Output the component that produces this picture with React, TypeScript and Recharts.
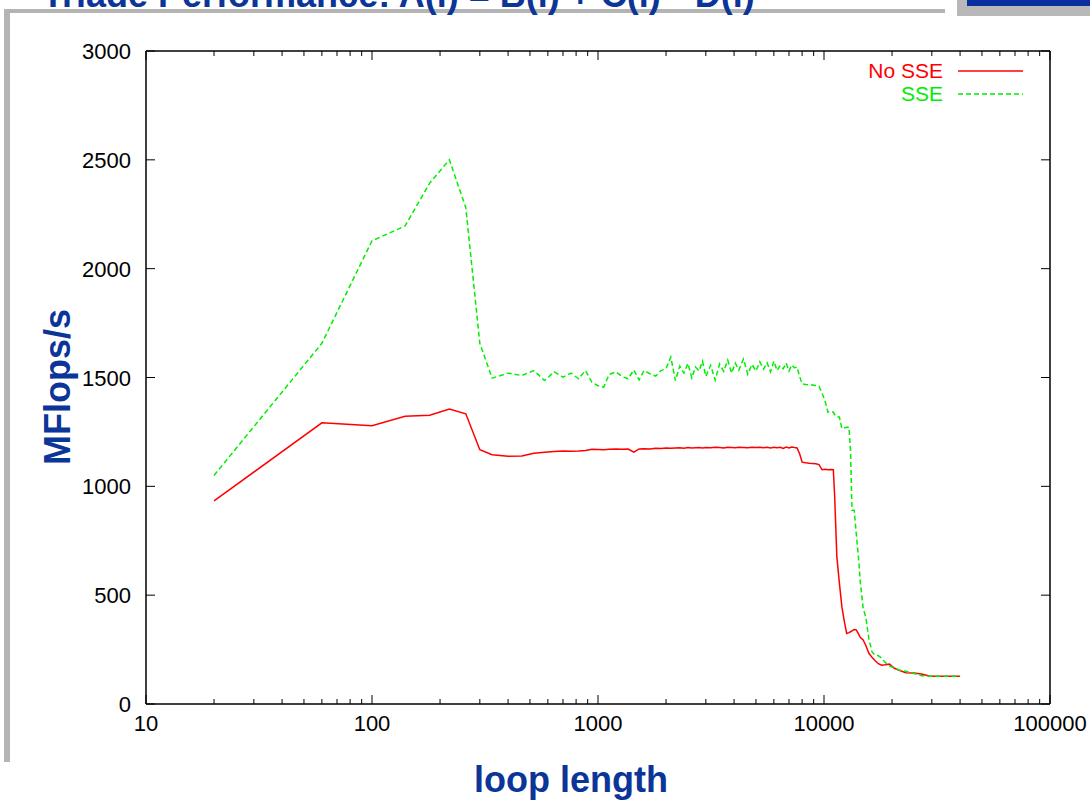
import { Legend, Line, LineChart, XAxis, YAxis } from 'recharts';

const loopLengths = [
	20, 60, 100, 140, 180, 220, 260, 300, 340, 400,
	460, 520, 580, 640, 700, 760, 820, 880, 940, 1000,
	1060, 1120, 1200, 1280, 1360, 1440, 1520, 1600, 1700, 1800,
	1900, 2000, 2100, 2200, 2300, 2400, 2500, 2600, 2700, 2800,
	2900, 3000, 3150, 3300, 3450, 3600, 3750, 3900, 4050, 4200,
	4400, 4600, 4800, 5000, 5200, 5400, 5600, 5800, 6000, 6200,
	6400, 6600, 6800, 7000, 7200, 7400, 7600, 7800, 8000, 8300,
	8600, 8900, 9200, 9500, 9800, 10100, 10400, 10700, 11000, 11150,
	11400, 11700, 12000, 12300, 12600, 12900, 13100, 13300, 13600, 13900,
	14200, 14500, 14900, 15300, 15800, 16300, 16800, 17400, 18000, 18700,
	19500, 20500, 21500, 23000, 25000, 27000, 29500, 32000, 35000, 38000,
	40000,
];

const noSse = [
	933, 1292, 1278, 1322, 1327, 1355, 1333, 1168, 1145, 1138,
	1139, 1152, 1157, 1160, 1162, 1161, 1162, 1165, 1170, 1169,
	1168, 1170, 1171, 1170, 1171, 1157, 1172, 1173, 1172, 1175,
	1174, 1176, 1175, 1176, 1177, 1175, 1178, 1176, 1177, 1178,
	1176, 1178, 1177, 1179, 1178, 1176, 1179, 1178, 1177, 1179,
	1178, 1177, 1179, 1178, 1180, 1177, 1179, 1176, 1180, 1177,
	1179, 1174, 1180, 1176, 1181, 1178, 1176, 1150, 1111, 1108,
	1106, 1105, 1104, 1100, 1076, 1078, 1076, 1077, 1076, 951,
	676, 554, 446, 380, 324, 328, 332, 336, 342, 340,
	322, 305, 294, 270, 233, 215, 200, 185, 178, 180,
	183, 164, 155, 144, 142, 138, 128, 128, 128, 128,
	128,
];

const sse = [
	1050, 1657, 2128, 2196, 2393, 2500, 2281, 1657, 1497, 1520,
	1509, 1532, 1486, 1526, 1502, 1520, 1494, 1532, 1478, 1462,
	1456, 1514, 1526, 1504, 1494, 1535, 1489, 1532, 1517, 1506,
	1532, 1540, 1594, 1486, 1552, 1520, 1565, 1498, 1548, 1530,
	1575, 1505, 1556, 1488, 1562, 1528, 1580, 1520, 1566, 1534,
	1585, 1515, 1560, 1530, 1572, 1538, 1568, 1526, 1575, 1532,
	1555, 1540, 1566, 1530, 1558, 1545, 1548, 1505, 1471, 1468,
	1466, 1465, 1463, 1460, 1428, 1394, 1341, 1345, 1341, 1330,
	1318, 1318, 1265, 1268, 1272, 1272, 1165, 890, 890, 780,
	676, 554, 440, 400, 300, 240, 225, 222, 210, 190,
	175, 165, 156, 150, 140, 130, 128, 127, 128, 127,
	128,
];

const xTicks = [
	10, 20, 30, 40, 50, 60, 70, 80, 90,
	100, 200, 300, 400, 500, 600, 700, 800, 900,
	1000, 2000, 3000, 4000, 5000, 6000, 7000, 8000, 9000,
	10000, 20000, 30000, 40000, 50000, 60000, 70000, 80000, 90000,
	100000,
];
const yTicks = [0, 500, 1000, 1500, 2000, 2500, 3000];

const series = [
	{ key: 'noSse', name: 'No SSE', color: '#ff0000', dash: undefined },
	{ key: 'sse', name: 'SSE', color: '#00ee00', dash: '5 3' },
];

const data = loopLengths.map((n, i) => ({ n, noSse: noSse[i], sse: sse[i] }));

const FONT = '"Liberation Sans", Arial, Helvetica, sans-serif';
const TITLE_BLUE = '#0b3597';

const isDecade = (v: number) => Math.abs(Math.log10(v) - Math.round(Math.log10(v))) < 1e-9;

const BottomTick = ({ x, y, payload }: any) => {
	const major = isDecade(payload.value);
	return (
		<g>
			<line x1={x} x2={x} y1={y} y2={y - (major ? 9 : 5)} stroke='#000' strokeWidth={1} />
			{major && (
				<text x={x} y={y + 27} textAnchor='middle' fontSize={22} fontFamily={FONT} fill='#000'>
					{payload.value}
				</text>
			)}
		</g>
	);
};

const TopTick = ({ x, y, payload }: any) => {
	const major = isDecade(payload.value);
	return <line x1={x} x2={x} y1={y} y2={y + (major ? 9 : 5)} stroke='#000' strokeWidth={1} />;
};

const LeftTick = ({ x, y, payload }: any) => (
	<g>
		<line x1={x} x2={x + 9} y1={y} y2={y} stroke='#000' strokeWidth={1} />
		<text x={x - 15} y={y + 8} textAnchor='end' fontSize={22} fontFamily={FONT} fill='#000'>
			{payload.value}
		</text>
	</g>
);

const RightTick = ({ x, y }: any) => (
	<line x1={x} x2={x - 9} y1={y} y2={y} stroke='#000' strokeWidth={1} />
);

const LegendBox = () => (
	<div style={{ fontFamily: FONT, fontSize: 21 }}>
		{series.map((s) => (
			<div
				key={s.key}
				style={{ display: 'flex', justifyContent: 'flex-end', alignItems: 'center', height: 23 }}
			>
				<span style={{ color: s.color, lineHeight: '21px', marginRight: 15 }}>{s.name}</span>
				<svg width={65} height={10}>
					<line x1={0} x2={65} y1={5} y2={5} stroke={s.color} strokeWidth={1.5} strokeDasharray={s.dash} />
				</svg>
			</div>
		))}
	</div>
);

export default function App() {
	return (
		<div style={{ position: 'absolute', left: 0, top: 0, width: 1090, height: 801, background: '#fff', overflow: 'hidden' }}>
			<svg width={1090} height={801} style={{ position: 'absolute', left: 0, top: 0 }}>
				<rect x={4} y={9} width={941} height={4} fill='#b4b4b4' />
				<rect x={4} y={9} width={6} height={753} fill='#b4b4b4' />
				<rect x={957} y={0} width={133} height={16} fill='#b8b8b8' />
				<rect x={967} y={0} width={123} height={6} fill='#0a2e9e' />
				<text x={42} y={7} fontSize={36} fontWeight='bold' fontFamily={FONT} fill={TITLE_BLUE}>
					Triade Performance: A(i) = B(i) + C(i) * D(i)
				</text>
				<text
					transform='translate(70 387) rotate(-90)'
					textAnchor='middle'
					fontSize={36}
					fontWeight='bold'
					fontFamily={FONT}
					fill={TITLE_BLUE}
				>
					MFlops/s
				</text>
				<text x={571} y={792} textAnchor='middle' fontSize={36} fontWeight='bold' fontFamily={FONT} fill={TITLE_BLUE}>
					loop length
				</text>
			</svg>
			<div style={{ position: 'absolute', left: 0, top: 0 }}>
				<LineChart
					width={1090}
					height={801}
					data={data}
					margin={{ top: 41, right: 30, bottom: 47, left: 66 }}
				>
					<XAxis
						xAxisId='bottom'
						dataKey='n'
						type='number'
						scale='log'
						domain={[10, 100000]}
						allowDataOverflow
						ticks={xTicks}
						interval={0}
						height={50}
						tickSize={0}
						tickMargin={0}
						tickLine={false}
						tick={BottomTick}
						axisLine={{ stroke: '#000', strokeWidth: 1.5 }}
					/>
					<XAxis
						xAxisId='top'
						orientation='top'
						dataKey='n'
						type='number'
						scale='log'
						domain={[10, 100000]}
						allowDataOverflow
						ticks={xTicks}
						interval={0}
						height={10}
						tickSize={0}
						tickMargin={0}
						tickLine={false}
						tick={TopTick}
						axisLine={{ stroke: '#000', strokeWidth: 1.5 }}
					/>
					<YAxis
						yAxisId='left'
						type='number'
						domain={[0, 3000]}
						allowDataOverflow
						ticks={yTicks}
						interval={0}
						width={80}
						tickSize={0}
						tickMargin={0}
						tickLine={false}
						tick={LeftTick}
						axisLine={{ stroke: '#000', strokeWidth: 1.5 }}
					/>
					<YAxis
						yAxisId='right'
						orientation='right'
						type='number'
						domain={[0, 3000]}
						allowDataOverflow
						ticks={yTicks}
						interval={0}
						width={10}
						tickSize={0}
						tickMargin={0}
						tickLine={false}
						tick={RightTick}
						axisLine={{ stroke: '#000', strokeWidth: 1.5 }}
					/>
					<Legend
						layout='vertical'
						align='center'
						verticalAlign='middle'
						content={LegendBox}
						wrapperStyle={{ position: 'absolute', top: 59, left: 793, width: 230, height: 46 }}
					/>
					{series.map((s) => (
						<Line
							key={s.key}
							xAxisId='bottom'
							yAxisId='left'
							type='linear'
							dataKey={s.key}
							name={s.name}
							stroke={s.color}
							strokeWidth={1.5}
							strokeDasharray={s.dash}
							dot={false}
							activeDot={false}
							isAnimationActive={false}
						/>
					))}
				</LineChart>
			</div>
		</div>
	);
}
